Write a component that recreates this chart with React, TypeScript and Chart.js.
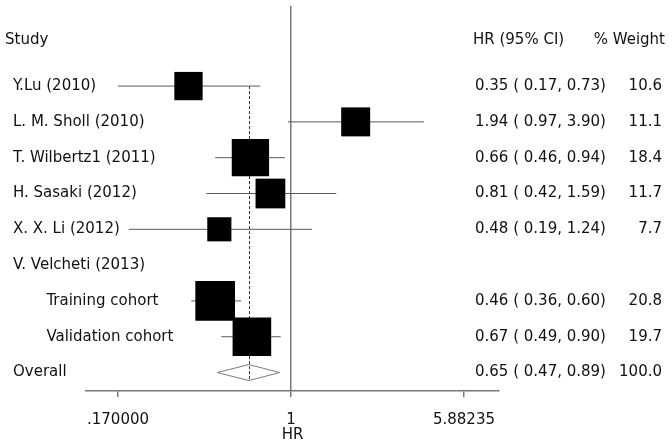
import React, { useEffect, useRef } from 'react';
import { Chart, registerables } from 'chart.js';

Chart.register(...registerables);

// ---- data ----
const HEADERS = ['Study', 'HR (95% CI)', '% Weight'];
const LABELS = [
  'Y.Lu (2010)',
  'L. M. Sholl (2010)',
  'T. Wilbertz1 (2011)',
  'H. Sasaki (2012)',
  'X. X. Li (2012)',
  'V. Velcheti (2013)',
  '       Training cohort',
  '       Validation cohort',
];
const HR: (number | null)[] = [0.35, 1.94, 0.66, 0.81, 0.48, null, 0.46, 0.67];
const LO: (number | null)[] = [0.17, 0.97, 0.46, 0.42, 0.19, null, 0.36, 0.49];
const HI: (number | null)[] = [0.73, 3.9, 0.94, 1.59, 1.24, null, 0.6, 0.9];
const WEIGHT: (number | null)[] = [10.6, 11.1, 18.4, 11.7, 7.7, null, 20.8, 19.7];
const OVERALL_LABEL = 'Overall';
const OVERALL_HR = 0.65;
const OVERALL_LO = 0.47;
const OVERALL_HI = 0.89;
const OVERALL_WEIGHT = 100.0;
const TICK_VALUES = [0.17, 1, 5.88235];
const TICK_LABELS = ['.170000', '1', '5.88235'];
const AXIS_TITLE = 'HR';

// ---- layout constants ----
const FONT = '15px "DejaVu Sans"';
const HEADER_ROW = -0.29;
const OVERALL_ROW = LABELS.length + 1;
const DIAMOND_HALF = 8;

const rowOf = (i: number) => i + 1;

const boxIdx = HR.map((v, i) => (v == null ? -1 : i)).filter((i) => i >= 0);

const fmt = (v: number, d: number) => v.toFixed(d);

const forestPlugin = {
  id: 'forestDecor',
  beforeDatasetsDraw(chart: any) {
    const { ctx, scales } = chart;
    const x = scales.x;
    const y = scales.y;
    const yc = y.getPixelForValue(OVERALL_ROW);
    const xl = x.getPixelForValue(OVERALL_LO);
    const xm = x.getPixelForValue(OVERALL_HR);
    const xr = x.getPixelForValue(OVERALL_HI);
    ctx.save();
    // diamond
    ctx.beginPath();
    ctx.moveTo(xl, yc);
    ctx.lineTo(xm, yc - DIAMOND_HALF);
    ctx.lineTo(xr, yc);
    ctx.lineTo(xm, yc + DIAMOND_HALF);
    ctx.closePath();
    ctx.fillStyle = '#ffffff';
    ctx.fill();
    ctx.strokeStyle = '#7a7a7a';
    ctx.lineWidth = 1;
    ctx.stroke();
    // dashed overall line
    ctx.beginPath();
    ctx.setLineDash([3, 2]);
    ctx.strokeStyle = '#333333';
    ctx.lineWidth = 1;
    const xa = Math.round(xm) + 0.5;
    ctx.moveTo(xa, y.getPixelForValue(rowOf(0)));
    ctx.lineTo(xa, yc + DIAMOND_HALF);
    ctx.stroke();
    ctx.restore();
  },
  afterDraw(chart: any) {
    const { ctx, scales } = chart;
    const y = scales.y;
    ctx.save();
    ctx.font = FONT;
    ctx.fillStyle = '#111111';
    ctx.textBaseline = 'middle';
    const hy = y.getPixelForValue(HEADER_ROW);
    ctx.textAlign = 'left';
    ctx.fillText(HEADERS[0], 5, hy);
    ctx.fillText(HEADERS[1], 473, hy);
    ctx.textAlign = 'right';
    ctx.fillText(HEADERS[2], 665, hy);
    LABELS.forEach((lab, i) => {
      const py = y.getPixelForValue(rowOf(i));
      ctx.textAlign = 'left';
      ctx.fillText(lab, 13, py);
      const h = HR[i], lo = LO[i], hi = HI[i], w = WEIGHT[i];
      if (h != null && lo != null && hi != null && w != null) {
        ctx.fillText(`${fmt(h, 2)} ( ${fmt(lo, 2)}, ${fmt(hi, 2)})`, 475, py);
        ctx.textAlign = 'right';
        ctx.fillText(fmt(w, 1), 662, py);
      }
    });
    const oy = y.getPixelForValue(OVERALL_ROW);
    ctx.textAlign = 'left';
    ctx.fillText(OVERALL_LABEL, 13, oy);
    ctx.fillText(`${fmt(OVERALL_HR, 2)} ( ${fmt(OVERALL_LO, 2)}, ${fmt(OVERALL_HI, 2)})`, 475, oy);
    ctx.textAlign = 'right';
    ctx.fillText(fmt(OVERALL_WEIGHT, 1), 662, oy);
    ctx.restore();
  },
};

export default function App() {
  const ref = useRef<HTMLCanvasElement | null>(null);
  useEffect(() => {
    if (!ref.current) return;
    Chart.defaults.font.family = '"DejaVu Sans"';
    Chart.defaults.font.size = 15;
    Chart.defaults.color = '#111111';

    const ciSets = boxIdx.map((i) => ({
      label: 'ci' + i,
      data: [
        { x: LO[i] as number, y: rowOf(i) },
        { x: HI[i] as number, y: rowOf(i) },
      ],
      showLine: true,
      borderColor: '#5a5a5a',
      borderWidth: 1,
      pointRadius: 0,
      order: 2,
    }));

    const boxSet = {
      label: 'boxes',
      data: boxIdx.map((i) => ({ x: HR[i] as number, y: rowOf(i) })),
      pointStyle: 'rect',
      pointRadius: (c: any) => 6.15 * Math.sqrt(WEIGHT[boxIdx[c.dataIndex]] as number),
      backgroundColor: '#000000',
      borderColor: '#000000',
      borderWidth: 0,
      order: 0,
    };

    const chart = new Chart(ref.current, {
      type: 'scatter',
      data: { datasets: [boxSet as any, ...ciSets] },
      options: {
        animation: false,
        responsive: false,
        events: [],
        layout: { autoPadding: false, padding: { left: 86, right: 173, top: 6, bottom: 0 } },
        plugins: { legend: { display: false }, tooltip: { enabled: false } },
        scales: {
          x: {
            type: 'logarithmic',
            min: 0.1225,
            max: 8.42,
            afterBuildTicks: (s: any) => {
              s.ticks = TICK_VALUES.map((v) => ({ value: v }));
            },
            afterFit: (s: any) => {
              s.height = 57;
            },
            ticks: {
              autoSkip: false,
              maxRotation: 0,
              minRotation: 0,
              padding: 14,
              color: '#111111',
              font: { size: 15, family: '"DejaVu Sans"' },
              callback: (_v: any, i: number) => TICK_LABELS[i],
            },
            grid: {
              display: true,
              drawOnChartArea: true,
              drawTicks: true,
              tickLength: 6,
              lineWidth: 1.5,
              color: (c: any) => (c.tick && c.tick.value === 1 ? '#777777' : 'rgba(0,0,0,0)'),
              tickColor: '#777777',
            },
            border: { display: true, color: '#777777', width: 1.5 },
            title: {
              display: true,
              text: AXIS_TITLE,
              color: '#111111',
              font: { size: 15, family: '"DejaVu Sans"' },
              padding: { top: 0, bottom: 4 },
            },
          },
          y: {
            type: 'linear',
            reverse: true,
            min: -1.236,
            max: 9.515,
            display: false,
          },
        },
      },
      plugins: [forestPlugin],
    } as any);
    return () => chart.destroy();
  }, []);

  return (
    <div style={{ position: 'absolute', left: 0, top: 0, width: 672, height: 448, background: '#fff' }}>
      <canvas ref={ref} width={672} height={448} style={{ display: 'block', width: 672, height: 448 }} />
    </div>
  );
}
